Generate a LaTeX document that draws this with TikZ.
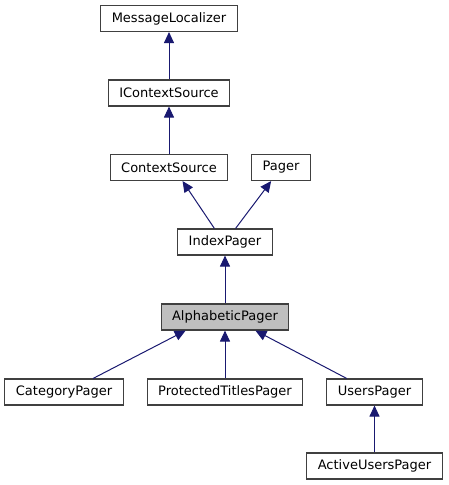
\documentclass[tikz,border=0pt]{standalone}
\usepackage{fontspec}
\setmainfont{DejaVu Sans}
\usetikzlibrary{arrows.meta}
\definecolor{edgeblue}{RGB}{25,25,112}
\definecolor{boxgray}{RGB}{191,191,191}
\tikzset{
	cls/.style={rectangle, minimum height=26pt, inner xsep=11pt, inner ysep=0pt, text centered, draw=black!75, line width=1.1pt, fill=white, font=\fontsize{13pt}{15pt}\selectfont},
	clsc/.style={cls, fill=boxgray},
	inh/.style={draw=edgeblue, line width=1pt, -{Triangle[length=11pt,width=10pt,fill=edgeblue]}},
}

\begin{document}
\begin{tikzpicture}[x=1pt,y=-1pt]
\useasboundingbox (0,0) rectangle (448,485);

\node [cls] (ml) at (169,18.5) {MessageLocalizer};
\node [cls] (ictx) at (169,93) {IContextSource};
\node [cls] (ctx) at (169,167.5) {ContextSource};
\node [cls] (pager) at (281,167.5) {Pager};
\node [cls] (index) at (225,242) {IndexPager};
\node [clsc] (alpha) at (225,317) {AlphabeticPager};
\node [cls] (cat) at (64,392) {CategoryPager};
\node [cls] (prot) at (225,392) {ProtectedTitlesPager};
\node [cls] (users) at (374.5,392) {UsersPager};
\node [cls] (ausers) at (374.5,466) {ActiveUsersPager};

% upper chain
\draw [inh] (ictx.north) -- (ml.south);
\draw [inh] (ctx.north) -- (ictx.south);

% IndexPager has two parents
\draw [inh] (index.128) -- (ctx.-45);
\draw [inh] (index.52) -- (pager.234);

\draw [inh] (alpha.north) -- (index.south);

% children of AlphabeticPager
\draw [inh] (cat.25) -- (alpha.199);
\draw [inh] (prot.north) -- (alpha.south);
\draw [inh] (users.154) -- (alpha.336);

\draw [inh] (ausers.north) -- (users.south);
\end{tikzpicture}
\end{document}
